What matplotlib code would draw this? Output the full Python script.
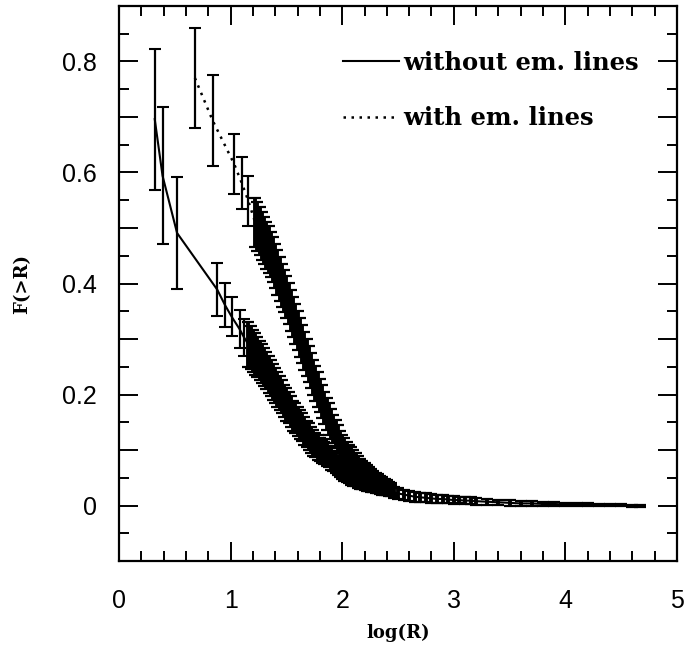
import numpy as np
import matplotlib
matplotlib.use("Agg")
import matplotlib.pyplot as plt
from matplotlib.lines import Line2D

# F(>R) vs log(R), sample without emission lines (solid curve)
logr_no = [0.32, 0.39, 0.52, 0.88, 0.95, 1.01, 1.08, 1.12,
           1.16, 1.18, 1.20, 1.22, 1.24, 1.26, 1.28, 1.30,
           1.32, 1.34, 1.36, 1.38, 1.40, 1.42, 1.44, 1.46, 1.48, 1.50, 1.52, 1.54, 1.56,
           1.58, 1.60, 1.62, 1.64, 1.66, 1.68, 1.70, 1.72, 1.74, 1.76, 1.78, 1.80, 1.82, 1.84, 1.86,
           1.88, 1.90, 1.92, 1.94, 1.96, 1.98, 2.00, 2.02, 2.04, 2.06, 2.08, 2.10, 2.12, 2.14, 2.16,
           2.18, 2.20, 2.22, 2.24, 2.26, 2.28, 2.30, 2.32, 2.34, 2.36, 2.38, 2.40, 2.42, 2.44]
f_no = [0.696, 0.594, 0.491, 0.389, 0.361, 0.340, 0.318, 0.303,
        0.290, 0.285, 0.279, 0.273, 0.267, 0.261, 0.256, 0.250,
        0.243, 0.236, 0.230, 0.223, 0.216, 0.209, 0.203, 0.196, 0.189, 0.182, 0.176, 0.169, 0.162,
        0.157, 0.152, 0.146, 0.141, 0.135, 0.129, 0.124, 0.118, 0.113, 0.109, 0.105, 0.101, 0.098, 0.095, 0.092,
        0.088, 0.084, 0.080, 0.077, 0.073, 0.068, 0.064, 0.061, 0.058, 0.055, 0.053, 0.051, 0.049, 0.046, 0.044,
        0.043, 0.041, 0.040, 0.039, 0.037, 0.036, 0.034, 0.033, 0.032, 0.031, 0.030, 0.029, 0.028, 0.027]
err_no = [0.127, 0.123, 0.101, 0.048, 0.040, 0.035, 0.035, 0.033,
          0.040, 0.039, 0.038, 0.037, 0.036, 0.035, 0.035, 0.034,
          0.033, 0.033, 0.032, 0.032, 0.031, 0.031, 0.030, 0.030, 0.029, 0.029, 0.028, 0.028, 0.027,
          0.027, 0.026, 0.026, 0.025, 0.025, 0.024, 0.024, 0.023, 0.023, 0.022, 0.022, 0.021, 0.021, 0.020, 0.020,
          0.019, 0.019, 0.018, 0.018, 0.017, 0.017, 0.016, 0.016, 0.016, 0.015, 0.015, 0.015, 0.014, 0.014, 0.014,
          0.013, 0.013, 0.013, 0.012, 0.012, 0.012, 0.012, 0.011, 0.011, 0.011, 0.011, 0.010, 0.010, 0.010]
n_sparse_no = 8

# sample with emission lines (dotted curve)
logr_em = [0.68, 0.84, 1.03, 1.10, 1.16,
           1.22, 1.24, 1.26, 1.28, 1.30, 1.32, 1.34, 1.36, 1.38, 1.40,
           1.42, 1.44, 1.46, 1.48, 1.50, 1.52, 1.54, 1.56, 1.58, 1.60,
           1.62, 1.64, 1.66, 1.68, 1.70, 1.72, 1.74, 1.76, 1.78, 1.80,
           1.82, 1.84, 1.86, 1.88, 1.90, 1.92, 1.94, 1.96, 1.98, 2.00,
           2.02, 2.04, 2.06, 2.08, 2.10, 2.12, 2.14, 2.16, 2.18, 2.20,
           2.22, 2.24, 2.26, 2.28, 2.30, 2.32, 2.34, 2.36, 2.38, 2.40, 2.42, 2.44]
f_em = [0.770, 0.693, 0.616, 0.581, 0.548,
        0.510, 0.502, 0.494, 0.486, 0.478, 0.469, 0.461, 0.452, 0.443, 0.432,
        0.420, 0.408, 0.397, 0.386, 0.375, 0.364, 0.352, 0.340, 0.327, 0.315,
        0.303, 0.291, 0.279, 0.267, 0.255, 0.243, 0.231, 0.220, 0.209, 0.198,
        0.187, 0.176, 0.165, 0.156, 0.147, 0.138, 0.129, 0.120, 0.111, 0.103,
        0.098, 0.093, 0.088, 0.084, 0.080, 0.075, 0.070, 0.066, 0.063, 0.060,
        0.057, 0.054, 0.051, 0.048, 0.045, 0.043, 0.041, 0.038, 0.036, 0.034, 0.032, 0.030]
err_em = [0.090, 0.082, 0.054, 0.046, 0.045,
          0.044, 0.044, 0.043, 0.043, 0.042, 0.042, 0.042, 0.041, 0.041, 0.040,
          0.040, 0.039, 0.039, 0.038, 0.038, 0.037, 0.037, 0.036, 0.036, 0.035,
          0.035, 0.034, 0.034, 0.033, 0.033, 0.032, 0.032, 0.031, 0.031, 0.030,
          0.030, 0.029, 0.028, 0.028, 0.027, 0.026, 0.026, 0.025, 0.024, 0.024,
          0.023, 0.022, 0.022, 0.021, 0.020, 0.020, 0.019, 0.018, 0.018, 0.017,
          0.016, 0.016, 0.015, 0.015, 0.014, 0.014, 0.013, 0.013, 0.012, 0.012, 0.011, 0.011]
n_sparse_em = 5

# common tail where both samples coincide
logr_tail = [2.46, 2.50, 2.55, 2.60, 2.65, 2.70, 2.75, 2.80, 2.85, 2.90, 2.95,
             3.00, 3.05, 3.10, 3.15, 3.20, 3.30, 3.40, 3.50, 3.60, 3.70, 3.80, 3.90,
             4.00, 4.10, 4.20, 4.30, 4.40, 4.50, 4.60, 4.67]
f_tail = [0.024, 0.022, 0.020, 0.018, 0.016, 0.015, 0.014, 0.013, 0.012, 0.012, 0.011,
          0.010, 0.010, 0.009, 0.009, 0.008, 0.007, 0.006, 0.005, 0.004, 0.004, 0.003, 0.003,
          0.002, 0.002, 0.002, 0.001, 0.001, 0.001, 0.000, 0.000]
err_tail = [0.010, 0.010, 0.009, 0.009, 0.009, 0.008, 0.008, 0.008, 0.007, 0.007, 0.007,
            0.007, 0.006, 0.006, 0.006, 0.006, 0.005, 0.005, 0.005, 0.004, 0.004, 0.004, 0.003,
            0.003, 0.003, 0.003, 0.002, 0.002, 0.002, 0.002, 0.002]

sans = "Liberation Sans"
serif = "DejaVu Serif"

fig = plt.figure(figsize=(6.88, 6.51), dpi=100)
ax = fig.add_axes([0.173, 0.138, 0.811, 0.853])

sparse_kw = dict(fmt="none", ecolor="black", elinewidth=1.6, capsize=4.5, capthick=1.5)
dense_kw = dict(fmt="none", ecolor="black", elinewidth=2.8, capsize=4.5, capthick=1.6)

x1 = logr_no + logr_tail
y1 = f_no + f_tail
e1 = err_no + err_tail
ax.plot(x1, y1, color="black", lw=1.5, ls="-")
ax.errorbar(x1[:n_sparse_no], y1[:n_sparse_no], yerr=e1[:n_sparse_no], **sparse_kw)
ax.errorbar(x1[n_sparse_no:], y1[n_sparse_no:], yerr=e1[n_sparse_no:], **dense_kw)

ax.plot(logr_em, f_em, color="black", lw=1.8, ls=(0, (1, 2.2)))
ax.errorbar(logr_em[:n_sparse_em], f_em[:n_sparse_em], yerr=err_em[:n_sparse_em], **sparse_kw)
ax.errorbar(logr_em[n_sparse_em:], f_em[n_sparse_em:], yerr=err_em[n_sparse_em:], **dense_kw)

ax.set_xlim(0, 5)
ax.set_ylim(-0.1, 0.9)
ax.set_xticks(np.arange(0, 5.01, 1))
ax.set_xticks(np.arange(0, 5.01, 0.2), minor=True)
yt = np.arange(-0.1, 0.901, 0.1)
ax.set_yticks(yt)
ax.set_yticks(np.arange(-0.1, 0.901, 0.05), minor=True)
ax.set_yticklabels(["" if abs(v - round(v / 0.2) * 0.2) > 1e-6 else ("0" if abs(v) < 1e-6 else f"{v:.1f}")
                    for v in yt])

ax.tick_params(which="both", direction="in", top=True, right=True, width=1.4, colors="black")
ax.tick_params(which="major", length=14, labelsize=18)
ax.tick_params(which="minor", length=7)
ax.tick_params(axis="x", pad=20)
ax.tick_params(axis="y", pad=16)
for lab in ax.get_xticklabels() + ax.get_yticklabels():
    lab.set_fontfamily(sans)
for s in ax.spines.values():
    s.set_linewidth(1.6)

ax.set_xlabel("log(R)", family=serif, fontweight="bold", fontsize=13, labelpad=8)
ax.set_ylabel("F(>R)", family=serif, fontweight="bold", fontsize=13, labelpad=22)

handles = [Line2D([], [], color="black", lw=1.5, ls="-"),
           Line2D([], [], color="black", lw=1.8, ls=(0, (1, 2.2)))]
ax.legend(handles, ["without em. lines", "with em. lines"], loc="upper left",
          bbox_to_anchor=(0.380, 0.941), frameon=False, borderpad=0,
          handlelength=2.3, handletextpad=0.17, labelspacing=1.3,
          prop=dict(family=serif, weight="bold", size=17.5))

fig.savefig("out.png", dpi=100, facecolor="white")
